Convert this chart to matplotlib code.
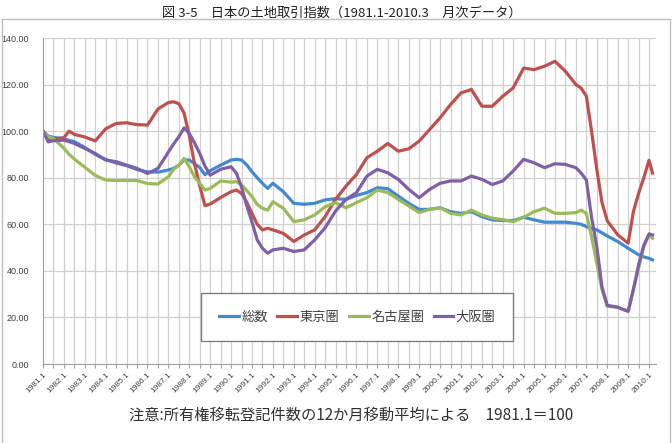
import numpy as np
import matplotlib
matplotlib.use("Agg")
import matplotlib.pyplot as plt
from matplotlib.patches import Rectangle

plt.rcParams['font.family'] = ['Liberation Sans', 'Noto Sans CJK JP', 'DejaVu Sans']

# month index counted from 1981.1 (last point = 2010.3)
months = [0, 3, 6, 12, 15, 18, 24, 30, 36, 42,
          48, 54, 60, 66, 72, 75, 78, 81, 84, 87,
          90, 93, 96, 102, 108, 111, 114, 117, 120, 123,
          126, 129, 132, 138, 144, 150, 156, 162, 168, 174,
          180, 186, 192, 198, 204, 210, 216, 222, 228, 234,
          240, 246, 252, 258, 264, 270, 276, 282, 288, 294,
          300, 306, 309, 312, 315, 318, 321, 324, 330, 336,
          339, 342, 345, 348, 350]

total = [100, 97.9, 97.3, 96.8, 96.0, 95.5, 93.0, 90.0, 87.8, 86.3,
         85.2, 83.5, 82.5, 82.4, 83.3, 84.0, 85.4, 87.6, 87.6, 86.0,
         84.4, 81.3, 83.0, 85.4, 87.6, 87.9, 87.6, 85.5, 82.6, 80.0,
         77.6, 75.4, 77.6, 74.0, 69.0, 68.6, 69.0, 70.5, 71.0, 70.7,
         72.4, 73.6, 75.7, 75.3, 72.1, 69.0, 66.4, 66.4, 67.1, 65.4,
         64.7, 65.4, 63.3, 61.9, 61.6, 61.6, 63.0, 61.9, 60.9, 60.9,
         60.9, 60.4, 60.0, 59.0, 58.3, 57.6, 56.3, 55.0, 52.6, 49.7,
         48.3, 46.9, 46.0, 45.4, 44.7]
tokyo = [100, 96.9, 96.5, 97.2, 100.0, 98.6, 97.5, 95.8, 101.0, 103.3,
         103.6, 102.8, 102.6, 109.5, 112.3, 112.6, 111.8, 107.8, 98.0, 86.0,
         76.5, 68.0, 68.7, 71.5, 74.0, 74.7, 73.3, 69.5, 64.7, 60.0,
         57.6, 58.3, 57.6, 56.1, 52.6, 55.4, 57.6, 63.3, 70.7, 76.4,
         81.4, 88.6, 91.4, 94.7, 91.4, 92.4, 95.7, 100.7, 105.7, 111.4,
         116.4, 117.9, 110.7, 110.7, 115.0, 118.6, 127.1, 126.4, 127.9, 130.0,
         125.7, 120.0, 118.5, 115.0, 100.0, 83.6, 69.3, 61.5, 55.5, 51.9,
         65.4, 73.3, 80.0, 87.5, 82.0]
nagoya = [100, 97.6, 96.8, 92.7, 90.0, 88.0, 84.5, 81.0, 79.0, 78.8,
          78.8, 78.8, 77.5, 77.3, 80.4, 83.6, 85.4, 88.3, 84.7, 80.4,
          77.6, 74.7, 75.4, 78.6, 78.1, 78.3, 76.9, 74.5, 71.9, 68.5,
          66.9, 66.1, 69.7, 66.9, 61.1, 61.9, 64.0, 67.5, 69.3, 67.1,
          69.3, 71.4, 74.7, 73.6, 70.7, 67.9, 65.0, 66.4, 67.1, 64.7,
          64.0, 66.1, 64.0, 62.6, 62.0, 61.1, 63.0, 65.4, 66.9, 64.7,
          64.7, 65.0, 66.1, 64.7, 54.7, 43.3, 31.9, 24.8, 24.3, 22.6,
          31.9, 41.1, 50.5, 55.4, 54.0]
osaka = [100, 95.4, 95.9, 96.1, 95.5, 94.7, 92.6, 90.4, 87.6, 86.9,
         85.4, 84.0, 81.8, 84.0, 91.0, 94.5, 97.6, 101.4, 99.0, 95.0,
         90.4, 85.0, 81.1, 83.6, 84.7, 82.0, 76.0, 68.0, 61.0, 53.3,
         49.7, 47.6, 49.0, 49.7, 48.3, 49.0, 53.3, 58.5, 65.7, 70.7,
         73.6, 80.7, 83.6, 82.1, 79.3, 75.0, 71.4, 75.0, 77.6, 78.6,
         78.6, 80.7, 79.3, 77.1, 78.6, 82.9, 87.9, 86.4, 84.3, 86.0,
         85.7, 84.3, 82.0, 79.0, 63.0, 50.4, 33.0, 25.2, 24.4, 22.6,
         31.9, 42.6, 51.0, 55.9, 55.4]

series_names = ['総数', '東京圏', '名古屋圏', '大阪圏']
series_colors = ['#4189D4', '#C0504D', '#9BBB59', '#7E5FA8']

fig = plt.figure(figsize=(6.72, 4.43), dpi=100)
ax = fig.add_axes([43 / 672, 1 - 364 / 443, 613 / 672, 326 / 443])

for vals, name, col in zip([total, tokyo, nagoya, osaka], series_names, series_colors):
    ax.plot(months, vals, color=col, lw=2.3, label=name, solid_joinstyle='round')

ax.set_xlim(0, 352)
ax.set_ylim(0, 140)
yt = np.arange(0, 141, 20)
ax.set_yticks(yt)
ax.set_yticklabels(['%.2f' % v for v in yt], fontsize=6.5, color='#404040')

xt = np.arange(0, 349, 6)
ax.set_xticks(xt)
xl = []
for m in xt:
    xl.append('%d.1' % (1981 + m // 12) if m % 12 == 0 else '')
ax.set_xticklabels(xl, rotation=45, ha='right', rotation_mode='anchor',
                   fontsize=6, color='#404040')
ax.tick_params(axis='x', length=3, color='#a0a0a0', pad=2)
ax.tick_params(axis='y', length=0, pad=10)

ax.grid(True, color='#d0d0d0', lw=0.9)
ax.set_axisbelow(True)
for s in ['top', 'right']:
    ax.spines[s].set_visible(False)
for s in ['left', 'bottom']:
    ax.spines[s].set_color('#a0a0a0')

leg = ax.legend(loc='center', bbox_to_anchor=(0.513, 0.144), ncol=4,
                prop={'family': ['Noto Sans CJK JP'], 'size': 9.5},
                frameon=True, fancybox=False, framealpha=1, edgecolor='#808080',
                handlelength=1.5, handletextpad=0.2, columnspacing=0.7, borderpad=1.35)
leg.get_frame().set_linewidth(1.0)
for t in leg.get_texts():
    t.set_color('#404040')

fig.text(0.508, 1 - 13 / 443, '図 3-5　日本の土地取引指数（1981.1-2010.3　月次データ）',
         ha='center', va='center', fontsize=9.5, family=['Noto Sans CJK JP'], color='#202020')
fig.text(0.522, 1 - 415 / 443, '注意:所有権移転登記件数の12か月移動平均による　1981.1＝100',
         ha='center', va='center', fontsize=11, family=['Noto Sans CJK JP'], color='#303030')

# chart area border
fig.patches.append(Rectangle((2 / 672, -0.01), 668 / 672, 1 - 19 / 443 + 0.01,
                             transform=fig.transFigure, fill=False,
                             edgecolor='#c0c0c0', lw=1.0))

fig.savefig('out.png', dpi=100)
